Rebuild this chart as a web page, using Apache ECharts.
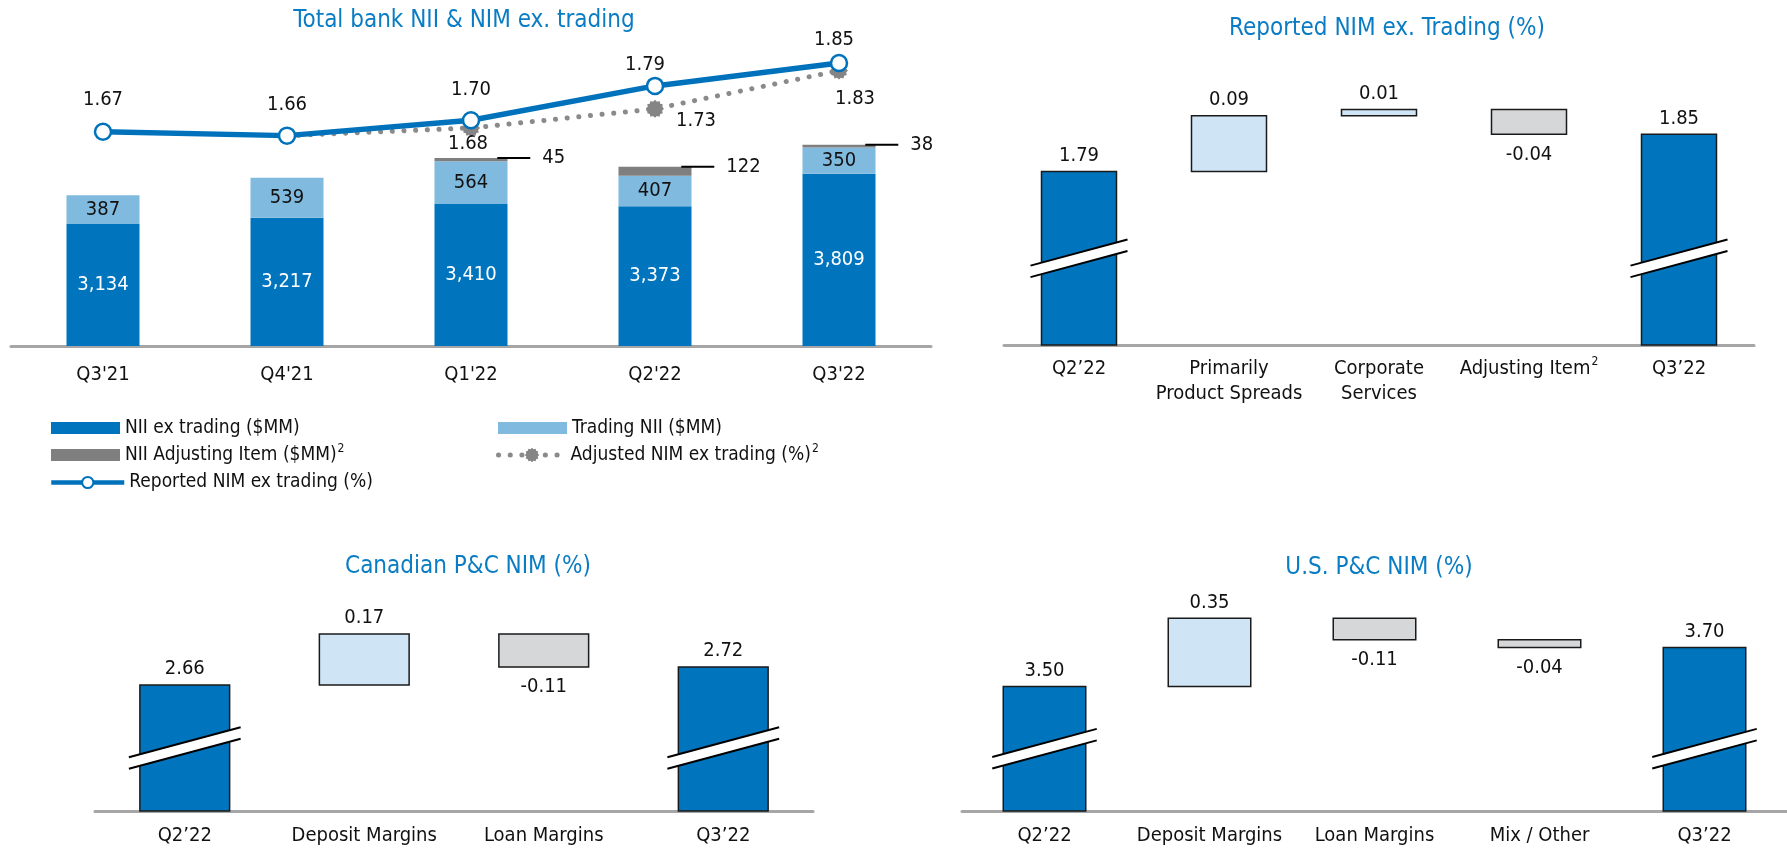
<!DOCTYPE html>
<html>
<head>
<meta charset="utf-8">
<script src="https://cdn.jsdelivr.net/npm/echarts@6/dist/echarts.min.js"></script>
<style>
html,body{margin:0;padding:0;background:#fff;}
#c{width:1787px;height:848px;}
</style>
</head>
<body>
<div id="c"></div>
<script>
// ---------- data ----------
const quarters = ["Q3'21", "Q4'21", "Q1'22", "Q2'22", "Q3'22"];
const niiExTrading = [3134, 3217, 3410, 3373, 3809];
const tradingNii = [387, 539, 564, 407, 350];
const niiAdjusting = [null, null, 45, 122, 38];
const reportedNim = [1.67, 1.66, 1.70, 1.79, 1.85];
const adjustedNim = [null, 1.66, 1.68, 1.73, 1.83];

const repCats = ['Q2’22', 'Primarily\nProduct Spreads', 'Corporate\nServices', 'Adjusting Item²', 'Q3’22'];
const repValues = [1.79, 0.09, 0.01, -0.04, 1.85];

const canCats = ['Q2’22', 'Deposit Margins', 'Loan Margins', 'Q3’22'];
const canValues = [2.66, 0.17, -0.11, 2.72];

const usCats = ['Q2’22', 'Deposit Margins', 'Loan Margins', 'Mix / Other', 'Q3’22'];
const usValues = [3.50, 0.35, -0.11, -0.04, 3.70];

const titles = ['Total bank NII & NIM ex. trading', 'Reported NIM ex. Trading (%)', 'Canadian P&C NIM (%)', 'U.S. P&C NIM (%)'];
const seriesNames = ['NII ex trading ($MM)', 'Trading NII ($MM)', 'NII Adjusting Item ($MM)²', 'Adjusted NIM ex trading (%)²', 'Reported NIM ex trading (%)'];

// ---------- styles ----------
const FONT = "'Liberation Sans Narrow','DejaVu Sans Condensed','Roboto Condensed','Arial Narrow',sans-serif";
const DARK = '#0075BE', LIGHT = '#80BADF', GREY = '#7F7F7F', TITLE = '#0A7CC4', TXT = '#111111';
const UP = '#CFE4F4', DOWN = '#D6D7D9', AXIS = '#A6A6A6';

function gearPath(n, r1, r2) {
  let d = '';
  for (let k = 0; k < 2 * n; k++) {
    const r = k % 2 ? r2 : r1, a = Math.PI * k / n;
    d += (k ? 'L' : 'M') + (10 + r * Math.cos(a)).toFixed(2) + ' ' + (10 + r * Math.sin(a)).toFixed(2);
  }
  return 'path://' + d + 'Z';
}
const GEAR = gearPath(12, 10, 8.2);

function supFmt(v) {
  return v.endsWith('²') ? '{n|' + v.slice(0, -1) + '}{s|2}' : v;
}

// label offsets for the NIM lines (relative to marker centre)
const repOffsets = [[0, -32], [0, -31], [0, -31], [-10, -21], [-5, -23]];
const adjOffsets = [null, null, [-3, 16], [41, 12], [16, 28]];

// ---------- waterfall helper ----------
function waterfall(values, gi, yi, axisMin) {
  const rows = [];
  let run = values[0];
  values.forEach((v, i) => {
    if (i === 0 || i === values.length - 1) rows.push([i, axisMin, v, 0, v]);
    else {
      const a = run, b = +(run + v).toFixed(4);
      rows.push([i, Math.min(a, b), Math.max(a, b), v >= 0 ? 1 : -1, v]);
      run = b;
    }
  });
  const first = values[0];
  return {
    type: 'custom', xAxisIndex: gi, yAxisIndex: yi, clip: false, data: rows,
    encode: { x: 0, y: [1, 2] },
    renderItem: function (params, api) {
      const i = api.value(0), lo = api.value(1), hi = api.value(2), kind = api.value(3), v = api.value(4);
      const cs = params.coordSys;
      const bw = api.size([1, 0])[0] * 0.5;
      const p = api.coord([i, hi]);
      const xc = p[0], yHi = p[1];
      const base = cs.y + cs.height;
      const yLo = kind === 0 ? base : api.coord([i, lo])[1];
      const fill = kind === 0 ? DARK : (kind > 0 ? UP : DOWN);
      const children = [{
        type: 'rect', shape: { x: xc - bw / 2, y: yHi, width: bw, height: yLo - yHi },
        style: { fill: fill, stroke: '#1a1a1a', lineWidth: 1.5 }
      }];
      if (kind === 0) {
        const yc = (base + api.coord([0, first])[1]) / 2;
        const hw = bw / 2 + 11, half = 0.27 * hw, t = 11.5;
        children.push({
          type: 'polygon',
          shape: { points: [[xc - hw, yc + half - t / 2], [xc + hw, yc - half - t / 2], [xc + hw, yc - half + t / 2], [xc - hw, yc + half + t / 2]] },
          style: { fill: '#fff' }
        });
        children.push({ type: 'line', shape: { x1: xc - hw, y1: yc + half - t / 2, x2: xc + hw, y2: yc - half - t / 2 }, style: { stroke: '#000', lineWidth: 2 } });
        children.push({ type: 'line', shape: { x1: xc - hw, y1: yc + half + t / 2, x2: xc + hw, y2: yc - half + t / 2 }, style: { stroke: '#000', lineWidth: 2 } });
      }
      const below = kind < 0;
      children.push({
        type: 'text',
        style: {
          text: v.toFixed(2), x: xc, y: below ? yLo + 20 : yHi - 16,
          textAlign: 'center', textVerticalAlign: 'middle',
          font: '20px ' + FONT, fill: TXT
        }
      });
      return { type: 'group', children: children };
    }
  };
}

function wfX(gi, cats, margin) {
  return {
    type: 'category', gridIndex: gi, data: cats, boundaryGap: true,
    axisLine: { lineStyle: { color: AXIS, width: 3 } }, axisTick: { show: false },
    axisLabel: {
      color: TXT, fontSize: 20, fontFamily: FONT, margin: margin, lineHeight: 25, interval: 0,
      formatter: supFmt,
      rich: { n: { fontSize: 20, fontFamily: FONT, color: TXT }, s: { fontSize: 12, fontFamily: FONT, color: TXT, verticalAlign: 'top', padding: [0, 0, 12, 1] } }
    }
  };
}
function wfY(gi, min, max) {
  return { type: 'value', gridIndex: gi, min: min, max: max, show: false, splitLine: { show: false } };
}

function legendItem(name, left, centerY, w, h, extra) {
  return Object.assign({
    data: [name], left: left, top: centerY - 12, padding: 0, itemWidth: w, itemHeight: h,
    formatter: supFmt,
    textStyle: {
      color: TXT, fontSize: 19, fontFamily: FONT, lineHeight: 24,
      rich: { n: { fontSize: 19, fontFamily: FONT, color: TXT }, s: { fontSize: 12, fontFamily: FONT, color: TXT, verticalAlign: 'top', padding: [0, 0, 10, 1] } }
    }
  }, extra || {});
}

const chart = echarts.init(document.getElementById('c'), null, { renderer: 'canvas' });

const titleStyle = { color: TITLE, fontSize: 24, fontWeight: 'normal', fontFamily: FONT };
const option = {
  backgroundColor: '#fff',
  animation: false,
  title: [
    { text: titles[0], left: 464, top: 9, textAlign: 'center', textStyle: titleStyle, padding: 0 },
    { text: titles[1], left: 1387, top: 17, textAlign: 'center', textStyle: titleStyle, padding: 0 },
    { text: titles[2], left: 468, top: 555, textAlign: 'center', textStyle: titleStyle, padding: 0 },
    { text: titles[3], left: 1379, top: 556, textAlign: 'center', textStyle: titleStyle, padding: 0 }
  ],
  legend: [
    legendItem(seriesNames[0], 51, 428, 69, 12, { icon: 'rect' }),
    legendItem(seriesNames[1], 498, 428, 69, 12, { icon: 'rect' }),
    legendItem(seriesNames[2], 51, 455, 69, 12, { icon: 'rect' }),
    legendItem(seriesNames[3], 496, 455, 67, 18, { lineStyle: { width: 5 } }),
    legendItem(seriesNames[4], 49, 482.5, 73, 14, { lineStyle: { width: 4.5 } })
  ],
  grid: [
    { left: 11, width: 920, top: 40, bottom: 502, containLabel: false },
    { left: 1004, width: 750, top: 60, bottom: 503, containLabel: false },
    { left: 95, width: 718, top: 601, bottom: 33, containLabel: false },
    { left: 962, width: 844, top: 595, bottom: 33, containLabel: false }
  ],
  xAxis: [
    {
      type: 'category', gridIndex: 0, data: quarters, boundaryGap: true,
      axisLine: { lineStyle: { color: AXIS, width: 3 } }, axisTick: { show: false },
      axisLabel: { color: TXT, fontSize: 20, fontFamily: FONT, margin: 19 }
    },
    wfX(1, repCats, 11),
    wfX(2, canCats, 12),
    wfX(3, usCats, 12)
  ],
  yAxis: [
    { type: 'value', gridIndex: 0, min: 1500, max: 5600, show: false, splitLine: { show: false } },
    { type: 'value', gridIndex: 0, min: 1.11, max: 1.91, show: false, splitLine: { show: false } },
    wfY(1, 1.51, 1.97),
    wfY(2, 2.24, 2.94),
    wfY(3, 2.86, 3.97)
  ],
  series: [
    {
      name: seriesNames[0], type: 'bar', xAxisIndex: 0, yAxisIndex: 0, stack: 'nii', barWidth: 73,
      itemStyle: { color: DARK }, data: niiExTrading,
      label: { show: true, position: 'inside', color: '#fff', fontSize: 20, fontFamily: FONT,
        formatter: p => p.value.toLocaleString('en-US') }
    },
    {
      name: seriesNames[1], type: 'bar', xAxisIndex: 0, yAxisIndex: 0, stack: 'nii', barWidth: 73,
      itemStyle: { color: LIGHT }, data: tradingNii,
      label: { show: true, position: 'inside', color: TXT, fontSize: 20, fontFamily: FONT }
    },
    {
      name: seriesNames[2], type: 'bar', xAxisIndex: 0, yAxisIndex: 0, stack: 'nii', barWidth: 73,
      itemStyle: { color: GREY }, data: niiAdjusting,
      label: {
        show: true, position: ['86%', 0], align: 'left', verticalAlign: 'middle',
        formatter: p => '{ln|}{v|' + p.value + '}',
        rich: {
          ln: { width: 33, height: 2, backgroundColor: '#000' },
          v: { fontSize: 20, fontFamily: FONT, color: TXT, padding: [0, 0, 0, 12] }
        }
      }
    },
    {
      name: seriesNames[3], type: 'line', xAxisIndex: 0, yAxisIndex: 1, z: 3,
      data: adjustedNim.map((v, i) => v == null ? null : {
        value: v,
        symbolSize: i === 1 ? 0 : 18,
        label: adjOffsets[i] ? { show: true, offset: adjOffsets[i] } : { show: false }
      }),
      symbol: GEAR, symbolSize: 18, showSymbol: true,
      itemStyle: { color: '#858585' },
      lineStyle: { color: '#8A8A8A', width: 5, type: [0.1, 11.6], cap: 'round' },
      label: { position: 'inside', color: TXT, fontSize: 20, fontFamily: FONT, formatter: p => p.value.toFixed(2) }
    },
    {
      name: seriesNames[4], type: 'line', xAxisIndex: 0, yAxisIndex: 1, z: 4,
      data: reportedNim.map((v, i) => ({ value: v, label: { offset: repOffsets[i] } })),
      symbol: 'circle', symbolSize: 16,
      itemStyle: { color: '#fff', borderColor: '#0072BC', borderWidth: 2.5 },
      lineStyle: { color: '#0072BC', width: 5.5 },
      label: { show: true, position: 'inside', color: TXT, fontSize: 20, fontFamily: FONT, formatter: p => p.value.toFixed(2) }
    },
    waterfall(repValues, 1, 2, 1.51),
    waterfall(canValues, 2, 3, 2.24),
    waterfall(usValues, 3, 4, 2.86)
  ]
};
chart.setOption(option);
</script>
</body>
</html>
